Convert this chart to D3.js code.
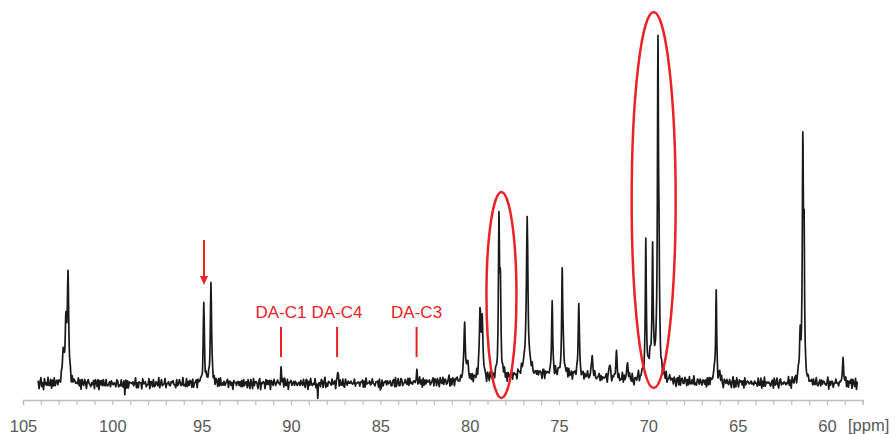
<!DOCTYPE html>
<html>
<head>
<meta charset="utf-8">
<script src="https://cdn.jsdelivr.net/npm/d3@7"></script>
<style>
	body { margin: 0; background: #fff; }
	svg { display: block; }
</style>
</head>
<body>
<svg id="chart" width="896" height="434"></svg>
<script>
// peak list: position (ppm), height, half width (ppm)
var peakPpm = [102.75, 102.60, 102.48, 94.88, 94.48, 90.56, 87.39, 82.95,
	80.28, 80.10, 79.42, 79.30, 78.36, 78.28, 76.78, 76.80, 75.38, 74.82, 74.78,
	73.89, 73.14, 72.15, 71.78, 71.16, 70.14, 69.76, 69.80, 69.46, 69.40,
	66.30, 66.20, 66.00, 61.50, 61.35, 61.28, 59.10, 75.50];
var peakHeight = [30, 55, 105, 78, 100, 14, 10, 9,
	58, 16, 62, 56, 152, 80, 132, 26, 72, 86, 30,
	72, 24, 16, 26, 17, 132, 110, 24, 318, 85,
	15, 92, 10, 42, 228, 126, 24, 9];
var peakWidth = [0.05, 0.05, 0.045, 0.04, 0.04, 0.03, 0.03, 0.03,
	0.045, 0.05, 0.05, 0.05, 0.035, 0.04, 0.045, 0.15, 0.035, 0.03, 0.06,
	0.04, 0.04, 0.04, 0.04, 0.04, 0.03, 0.03, 0.3, 0.035, 0.03,
	0.04, 0.03, 0.04, 0.05, 0.035, 0.03, 0.04, 3.5];

// downward spikes in the baseline
var dipPpm = [99.3, 88.5, 85.0, 70.8];
var dipDepth = [9, 13, 9, 9];

// baseline noise, typed in and cycled along the spectrum
var noiseA = [2, -3, 1, 4, -2, 0, -4, 3, -1, 2, -3, 4, 0, -2, 3, -4, 1, -1, 4, -3,
	2, 0, -2, 3, -1, -4, 2, 1, -3, 4, -2, 0, 3, -1, -3, 2, 4, -4, 1, -2,
	3, 0, -3, 2, -1, 4, -2, 1, -4, 3, 0, -1, 2];
var noiseB = [1, -2, 0, 2, -1, 1, -2, 2, 0, -1, 1, 2, -2, 0, 1, -1, 2, -2, 1, 0,
	-1, 2, -1, -2, 1, 0, 2, -1, 1, -2, 0];

var spectrumStart = 104.15;
var spectrumEnd = 58.3;

var tickValues = d3.range(58, 106);
var labelNames = ["DA-C1", "DA-C4", "DA-C3"];
var labelPpm = [90.56, 87.42, 82.97];
var arrowPpm = 94.87;
// circled regions: centre ppm
var ringPpm = [78.22, 69.7];

var svg = d3.select("#chart");
var red = "#ea2228";
var font = "'Liberation Sans', Arial, sans-serif";

var x = d3.scaleLinear().domain([105, 58]).range([23, 862.7]);
var y = d3.scaleLinear().domain([0, 350]).range([384, 33]);

// deterministic noise at grid index i
var noiseAt = function (i) {
	return noiseA[i % noiseA.length] + noiseB[i % noiseB.length];
};

var step = 0.05;
var noiseFor = function (ppm) {
	var t = (spectrumStart - ppm) / step;
	var i0 = Math.floor(t);
	var f = t - i0;
	return noiseAt(i0) * (1 - f) + noiseAt(i0 + 1) * f;
};

var signalAt = function (ppm) {
	var v = noiseFor(ppm);
	var i, d;
	for (i = 0; i < peakPpm.length; i++) {
		d = (ppm - peakPpm[i]) / peakWidth[i];
		v += peakHeight[i] / (1 + d * d);
	}
	for (i = 0; i < dipPpm.length; i++) {
		d = (ppm - dipPpm[i]) / 0.02;
		v -= dipDepth[i] / (1 + d * d);
	}
	return v;
};

// sample points: coarse grid plus dense points around each peak
var ppms = [];
for (var p = spectrumStart; p >= spectrumEnd; p -= step) {
	ppms.push(p);
}
var addAround = function (centre, w) {
	if (w > 1) { return; }
	for (var k = -8; k <= 8; k++) {
		var q = centre + k * w / 2;
		if (q < spectrumStart && q > spectrumEnd) { ppms.push(q); }
	}
};
peakPpm.forEach(function (c, i) { addAround(c, peakWidth[i]); });
dipPpm.forEach(function (c) { addAround(c, 0.02); });
ppms.sort(function (a, b) { return b - a; });

var points = ppms.map(function (q) { return [q, signalAt(q)]; });

// axis
var gAxis = svg.append("g").attr("transform", "translate(0,400)");
gAxis.call(d3.axisBottom(x)
	.tickValues(tickValues)
	.tickSize(5)
	.tickPadding(15)
	.tickFormat(function (d) { return (d % 5 === 0) ? d : ""; }));
gAxis.select(".domain").attr("stroke", "#bfbfbf").attr("stroke-width", 1.4);
gAxis.selectAll(".tick line").attr("stroke", "#bfbfbf").attr("stroke-width", 1.2);
gAxis.selectAll(".tick text")
	.attr("fill", "#595959")
	.attr("font-size", "16.5px")
	.attr("font-family", font);

svg.append("text")
	.attr("x", 848)
	.attr("y", 431)
	.attr("fill", "#595959")
	.attr("font-size", "16.5px")
	.attr("font-family", font)
	.text("[ppm]");

// spectrum line
var line = d3.line()
	.x(function (d) { return x(d[0]); })
	.y(function (d) { return y(d[1]); });

svg.append("path")
	.datum(points)
	.attr("fill", "none")
	.attr("stroke", "#1a1a1a")
	.attr("stroke-width", 1.7)
	.attr("stroke-linejoin", "round")
	.attr("d", line);

// red annotations
var gNotes = svg.append("g");

labelNames.forEach(function (name, i) {
	var lx = x(labelPpm[i]);
	gNotes.append("text")
		.attr("x", lx)
		.attr("y", 318)
		.attr("text-anchor", "middle")
		.attr("fill", red)
		.attr("font-size", "17px")
		.attr("font-family", font)
		.text(name);
	gNotes.append("line")
		.attr("x1", lx).attr("x2", lx)
		.attr("y1", 327).attr("y2", 357)
		.attr("stroke", red)
		.attr("stroke-width", 2);
});

// arrow over the 94.9 ppm peak
var ax = x(arrowPpm);
gNotes.append("line")
	.attr("x1", ax).attr("x2", ax)
	.attr("y1", 240).attr("y2", 277)
	.attr("stroke", red)
	.attr("stroke-width", 2);
gNotes.append("path")
	.attr("d", "M" + (ax - 4) + ",276 L" + (ax + 4) + ",276 L" + ax + ",285 Z")
	.attr("fill", red);

// ellipses round the two groups
var ringCy = [295, 200];
var ringRx = [15, 22];
var ringRy = [103, 188];
ringPpm.forEach(function (c, i) {
	gNotes.append("ellipse")
		.attr("cx", x(c))
		.attr("cy", ringCy[i])
		.attr("rx", ringRx[i])
		.attr("ry", ringRy[i])
		.attr("fill", "none")
		.attr("stroke", red)
		.attr("stroke-width", 2.5);
});
</script>
</body>
</html>
